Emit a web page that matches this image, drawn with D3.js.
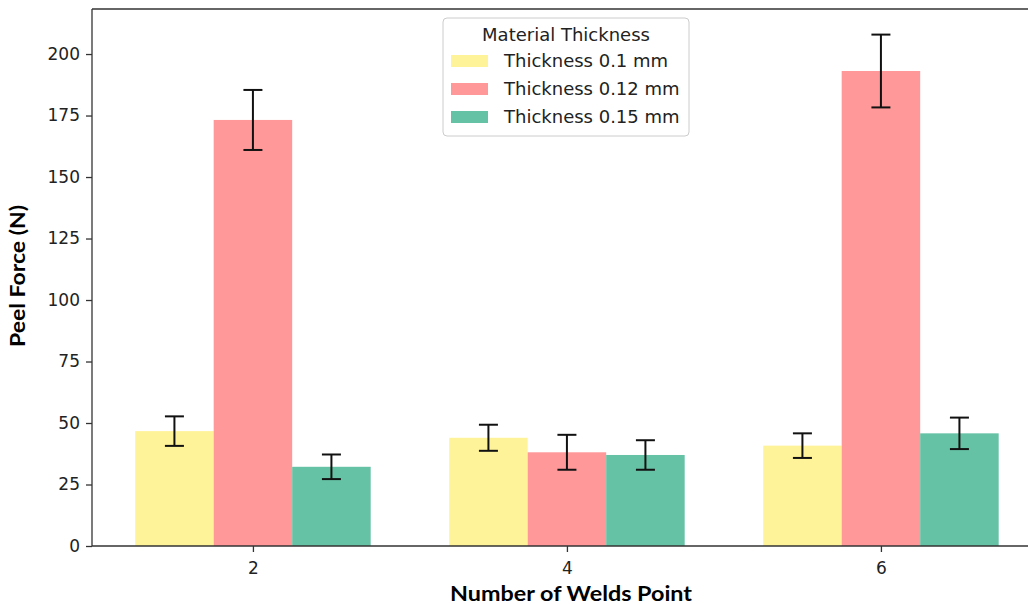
<!DOCTYPE html>
<meta charset="utf-8">
<html>
<head>
<script src="https://d3js.org/d3.v7.min.js"></script>
<style>
  body { margin: 0; background: #fff; }
  .tick text { font-family: "DejaVu Sans", sans-serif; fill: #222; }
</style>
</head>
<body>
<div id="my_dataviz"></div>
<script>
  // data
  const welds = ["2", "4", "6"];
  const series = ["Thickness 0.1 mm", "Thickness 0.12 mm", "Thickness 0.15 mm"];
  const means = [
    [46.7, 44.0, 40.8],    // 0.1 mm
    [173.2, 38.1, 193.1],  // 0.12 mm
    [32.2, 37.0, 45.8]     // 0.15 mm
  ];
  const errs = [
    [6.0, 5.3, 5.0],
    [12.2, 7.1, 14.8],
    [5.0, 6.0, 6.4]
  ];
  const yTicks = [0, 25, 50, 75, 100, 125, 150, 175, 200];
  const colors = ["#fff39a", "#ff9999", "#66c2a5"];

  const W = 1028, H = 604;
  const barW = 0.25;

  const svg = d3.select("#my_dataviz")
    .append("svg")
    .attr("width", W)
    .attr("height", H);

  // plot area runs off the right edge, like the original
  const x = d3.scaleLinear()
    .domain([-0.5125, 2.5125])
    .range([92, 92 + 3.025 * 314]);
  const y = d3.scaleLinear()
    .domain([0, 217.9])
    .range([546, 10]);

  // bars
  const rows = [];
  series.forEach(function(s, si) {
    welds.forEach(function(w, wi) {
      rows.push({s: si, w: wi, v: means[si][wi], e: errs[si][wi]});
    });
  });

  svg.append("g")
    .selectAll("rect")
    .data(rows)
    .enter()
    .append("rect")
      .attr("x", function(d) { return x(d.w + (d.s - 1) * barW - barW / 2); })
      .attr("y", function(d) { return y(d.v); })
      .attr("width", function(d) { return x(barW) - x(0); })
      .attr("height", function(d) { return y(0) - y(d.v); })
      .style("fill", function(d) { return colors[d.s]; });

  // error bars
  const eb = svg.append("g").attr("stroke", "#111").attr("stroke-width", 2);
  rows.forEach(function(d) {
    const cx = x(d.w + (d.s - 1) * barW);
    eb.append("line").attr("x1", cx).attr("x2", cx)
      .attr("y1", y(d.v + d.e)).attr("y2", y(d.v - d.e));
    eb.append("line").attr("x1", cx - 9.5).attr("x2", cx + 9.5)
      .attr("y1", y(d.v + d.e)).attr("y2", y(d.v + d.e));
    eb.append("line").attr("x1", cx - 9.5).attr("x2", cx + 9.5)
      .attr("y1", y(d.v - d.e)).attr("y2", y(d.v - d.e));
  });

  // axes
  const xAxis = svg.append("g")
    .attr("transform", "translate(0," + y(0) + ")")
    .call(d3.axisBottom(x).tickValues([0, 1, 2]).tickFormat(function(i) { return welds[i]; })
      .tickSize(6).tickPadding(9.5));
  const yAxis = svg.append("g")
    .attr("transform", "translate(" + x.range()[0] + ",0)")
    .call(d3.axisLeft(y).tickValues(yTicks).tickSize(6).tickPadding(6));
  [xAxis, yAxis].forEach(function(a) {
    a.select(".domain").remove();
    a.selectAll(".tick line").attr("stroke", "#333").attr("stroke-width", 1.3);
    a.selectAll(".tick text").style("font-size", "17px");
  });

  // spines
  const spine = svg.append("g").attr("stroke", "#333").attr("stroke-width", 1.3).attr("fill", "none");
  spine.append("line").attr("x1", x.range()[0]).attr("x2", W + 20).attr("y1", y(0)).attr("y2", y(0));
  spine.append("line").attr("x1", x.range()[0]).attr("x2", W + 20).attr("y1", y.range()[1] - 1).attr("y2", y.range()[1] - 1);
  spine.append("line").attr("x1", x.range()[0]).attr("x2", x.range()[0]).attr("y1", y(0)).attr("y2", y.range()[1] - 1);

  // axis labels (the original is a little stretched sideways)
  svg.append("text")
    .attr("x", 571)
    .attr("y", 601)
    .attr("text-anchor", "middle")
    .attr("textLength", 242)
    .attr("lengthAdjust", "spacingAndGlyphs")
    .style("font-family", "Lato, sans-serif")
    .style("font-weight", "bold")
    .style("font-size", "21px")
    .text("Number of Welds Point");

  svg.append("text")
    .attr("transform", "translate(25,276) rotate(-90)")
    .attr("text-anchor", "middle")
    .attr("textLength", 142)
    .attr("lengthAdjust", "spacingAndGlyphs")
    .style("font-family", "Lato, sans-serif")
    .style("font-weight", "bold")
    .style("font-size", "21px")
    .text("Peel Force (N)");

  // legend
  const leg = svg.append("g").attr("transform", "translate(443,18)");
  leg.append("rect")
    .attr("width", 246).attr("height", 118)
    .attr("rx", 4)
    .style("fill", "#fff").style("fill-opacity", 0.8)
    .style("stroke", "#ccc");
  leg.append("text")
    .attr("x", 123).attr("y", 23)
    .attr("text-anchor", "middle")
    .style("font-family", "DejaVu Sans, sans-serif")
    .style("font-size", "18px")
    .style("fill", "#222")
    .text("Material Thickness");
  leg.selectAll("legrect")
    .data(series)
    .enter()
    .append("rect")
      .attr("x", 8)
      .attr("y", function(d, i) { return 37 + i * 28; })
      .attr("width", 37).attr("height", 12)
      .style("fill", function(d, i) { return colors[i]; });
  leg.selectAll("leglabel")
    .data(series)
    .enter()
    .append("text")
      .attr("x", 61)
      .attr("y", function(d, i) { return 43 + i * 28; })
      .attr("dy", "0.35em")
      .style("font-family", "DejaVu Sans, sans-serif")
      .style("font-size", "18px")
      .style("fill", "#222")
      .text(function(d) { return d; });
</script>
</body>
</html>
